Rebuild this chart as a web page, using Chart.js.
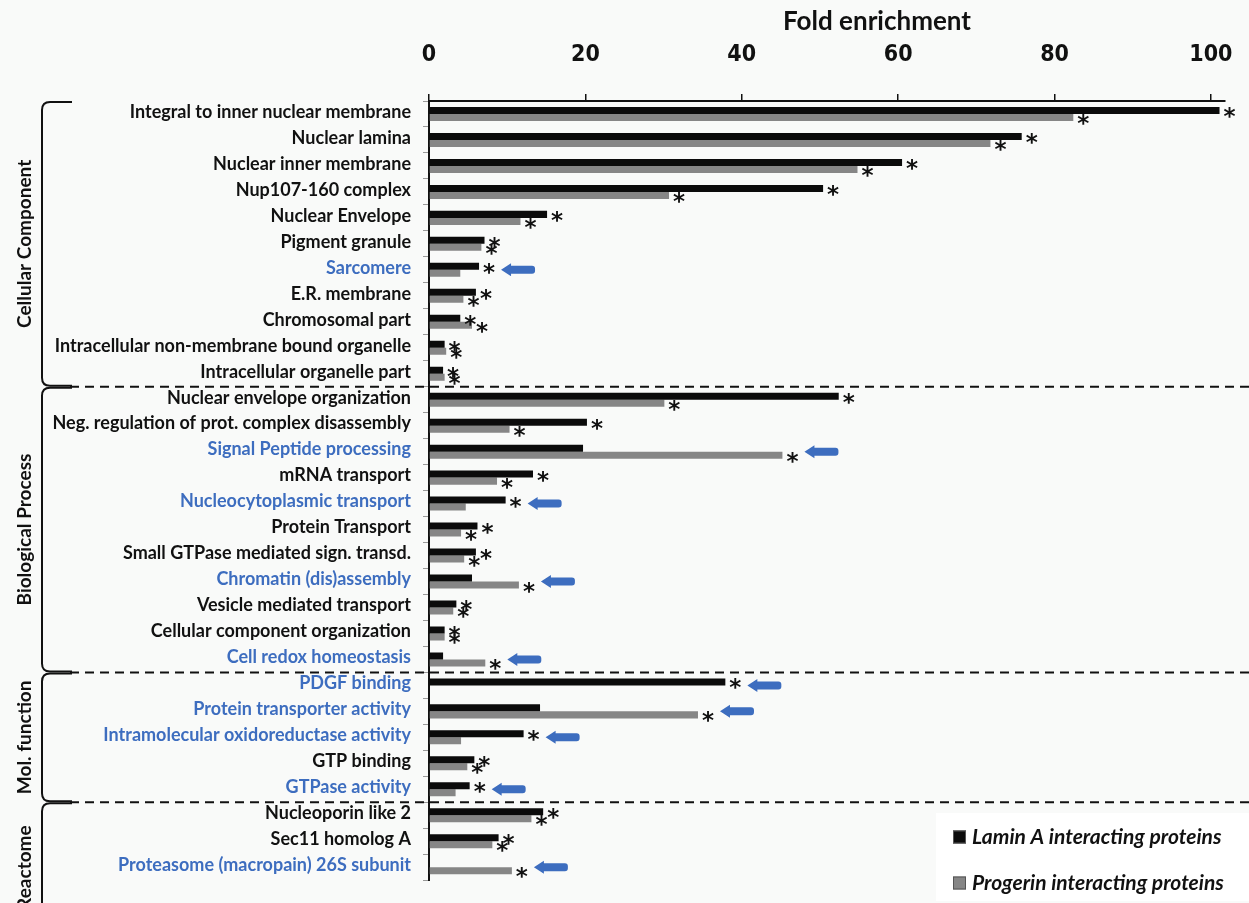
<!doctype html>
<html>
<head>
<meta charset="utf-8" />
<title>Fold enrichment</title>
<script src="https://cdn.jsdelivr.net/npm/chart.js"></script>
<style>
  html, body { margin: 0; padding: 0; background: #f9faf9; }
  #wrap { width: 1249px; height: 903px; }
</style>
</head>
<body>
<div id="wrap"><canvas id="chart"></canvas></div>
<script>
// --- data ---
const categories = [
  'Integral to inner nuclear membrane', 'Nuclear lamina', 'Nuclear inner membrane',
  'Nup107-160 complex', 'Nuclear Envelope', 'Pigment granule', 'Sarcomere',
  'E.R. membrane', 'Chromosomal part', 'Intracellular non-membrane bound organelle',
  'Intracellular organelle part',
  'Nuclear envelope organization', 'Neg. regulation of prot. complex disassembly',
  'Signal Peptide processing', 'mRNA transport', 'Nucleocytoplasmic transport',
  'Protein Transport', 'Small GTPase mediated sign. transd.', 'Chromatin (dis)assembly',
  'Vesicle mediated transport', 'Cellular component organization', 'Cell redox homeostasis',
  'PDGF binding', 'Protein transporter activity', 'Intramolecular oxidoreductase activity',
  'GTP binding', 'GTPase activity',
  'Nucleoporin like 2', 'Sec11 homolog A', 'Proteasome (macropain) 26S subunit'
];
const laminA = [101.1, 75.8, 60.5, 50.4, 15.1, 7.1, 6.4, 6.0, 4.0, 2.0, 1.8,
  52.4, 20.2, 19.7, 13.3, 9.8, 6.2, 6.0, 5.5, 3.5, 2.0, 1.8,
  37.9, 14.2, 12.1, 5.8, 5.2,
  14.6, 8.9, 0];
const progerin = [82.4, 71.8, 54.8, 30.7, 11.7, 6.7, 4.0, 4.4, 5.5, 2.2, 2.0,
  30.1, 10.3, 45.2, 8.7, 4.7, 4.1, 4.5, 11.5, 3.1, 2.0, 7.2,
  0, 34.4, 4.1, 4.9, 3.4,
  13.1, 8.1, 10.6];
// significance stars (1 = "*")
const laminSig = [1,1,1,1,1,1,1,1,1,1,1, 1,1,0,1,1,1,1,0,1,1,0, 1,0,1,1,1, 1,1,0];
const progerinSig = [1,1,1,1,1,1,0,1,1,1,1, 1,1,1,1,0,1,1,1,1,1,1, 0,1,0,1,0, 1,1,1];
// rows marked in blue with an arrow
const highlighted = [0,0,0,0,0,0,1,0,0,0,0, 0,0,1,0,1,0,0,1,0,0,1, 1,1,1,0,1, 0,0,1];
const groupNames = ['Cellular Component', 'Biological Process', 'Mol. function', 'Reactome'];
const groupSizes = [11, 11, 5, 3];
const xTicks = [0, 20, 40, 60, 80, 100];

const BLUE = '#3d6dbf';
const INK = '#111111';

function drawArrow(ctx, x, y) {
  const len = 34, headLen = 10, headH = 6.5, shaftH = 4, r = 3;
  ctx.beginPath();
  ctx.moveTo(x, y);
  ctx.lineTo(x + headLen, y - headH);
  ctx.lineTo(x + headLen, y - shaftH);
  ctx.lineTo(x + len - r, y - shaftH);
  ctx.quadraticCurveTo(x + len, y - shaftH, x + len, y - shaftH + r);
  ctx.lineTo(x + len, y + shaftH - r);
  ctx.quadraticCurveTo(x + len, y + shaftH, x + len - r, y + shaftH);
  ctx.lineTo(x + headLen, y + shaftH);
  ctx.lineTo(x + headLen, y + headH);
  ctx.closePath();
  ctx.fill();
}

const decor = {
  id: 'decor',
  beforeDraw(chart) {
    const { ctx, width, height } = chart;
    ctx.save();
    ctx.fillStyle = '#f9faf9';
    ctx.fillRect(0, 0, width, height);
    ctx.restore();
  },
  afterDatasetsDraw(chart) {
    const ctx = chart.ctx;
    const ys = chart.scales.y;
    ctx.save();
    // stars
    ctx.fillStyle = INK;
    ctx.font = 'bold 23px "DejaVu Sans"';
    ctx.textAlign = 'center';
    ctx.textBaseline = 'alphabetic';
    const m = ctx.measureText('*');
    const mid = (m.actualBoundingBoxAscent - m.actualBoundingBoxDescent) / 2;
    const sigs = [laminSig, progerinSig];
    chart.data.datasets.forEach((ds, di) => {
      chart.getDatasetMeta(di).data.forEach((bar, i) => {
        if (!sigs[di][i]) return;
        ctx.fillText('*', bar.x + 10, bar.y + 2 + mid);
      });
    });
    // arrows
    ctx.fillStyle = BLUE;
    highlighted.forEach((h, i) => {
      if (!h) return;
      const ends = chart.data.datasets.map((ds, di) => chart.getDatasetMeta(di).data[i].x);
      drawArrow(ctx, Math.max(...ends) + 22, ys.getPixelForValue(i));
    });
    ctx.restore();
  },
  afterDraw(chart) {
    const { ctx, width, height, chartArea } = chart;
    const ys = chart.scales.y;
    ctx.save();

    // group boundaries
    const bounds = [chartArea.top];
    let k = 0;
    groupSizes.forEach((n, gi) => {
      k += n;
      if (gi < groupSizes.length - 1) {
        bounds.push((ys.getPixelForValue(k - 1) + ys.getPixelForValue(k)) / 2);
      }
    });
    bounds.push(height + 30);

    // dashed separators
    ctx.strokeStyle = INK;
    ctx.lineWidth = 2;
    ctx.setLineDash([9, 6]);
    for (let i = 1; i < bounds.length - 1; i++) {
      ctx.beginPath();
      ctx.moveTo(70, bounds[i]);
      ctx.lineTo(width, bounds[i]);
      ctx.stroke();
    }
    ctx.setLineDash([]);

    // brackets + group names
    const bx = 42;
    groupNames.forEach((name, gi) => {
      const top = bounds[gi] + 1, bot = bounds[gi + 1] - 1;
      ctx.beginPath();
      ctx.moveTo(72, top);
      ctx.lineTo(50, top);
      ctx.quadraticCurveTo(bx, top, bx, top + 8);
      ctx.lineTo(bx, bot - 8);
      ctx.quadraticCurveTo(bx, bot, 50, bot);
      ctx.lineTo(72, bot);
      ctx.stroke();

      ctx.save();
      ctx.translate(25, (top + bot) / 2);
      ctx.rotate(-Math.PI / 2);
      ctx.fillStyle = INK;
      ctx.font = 'bold 19px Lato';
      ctx.textAlign = 'center';
      ctx.textBaseline = 'middle';
      ctx.fillText(name, 0, 0);
      ctx.restore();
    });

    // axis title
    ctx.fillStyle = INK;
    ctx.font = 'bold 26px Lato';
    ctx.textAlign = 'center';
    ctx.textBaseline = 'middle';
    ctx.fillText('Fold enrichment', 877, 22);

    // legend
    ctx.fillStyle = '#ffffff';
    ctx.fillRect(936, 813, 313, 88);
    ctx.font = 'italic bold 21px Lato';
    ctx.textAlign = 'left';
    const legendY = [837, 883];
    chart.data.datasets.forEach((ds, di) => {
      const y = legendY[di];
      ctx.fillStyle = ds.backgroundColor;
      ctx.fillRect(953, y - 6.5, 13, 13);
      ctx.strokeStyle = '#555';
      ctx.lineWidth = 1;
      ctx.strokeRect(953.5, y - 6, 12, 12);
      ctx.fillStyle = INK;
      ctx.fillText(ds.label, 972, y);
    });
    ctx.restore();
  }
};

new Chart(document.getElementById('chart'), {
  type: 'bar',
  data: {
    labels: categories,
    datasets: [
      { label: 'Lamin A interacting proteins', data: laminA, backgroundColor: '#0b0b0b' },
      { label: 'Progerin interacting proteins', data: progerin, backgroundColor: '#868686' }
    ]
  },
  options: {
    indexAxis: 'y',
    responsive: true,
    maintainAspectRatio: false,
    animation: false,
    layout: { padding: { left: 0, top: 0, right: 24, bottom: 19 } },
    datasets: { bar: { barPercentage: 1, categoryPercentage: 0.54 } },
    plugins: { legend: { display: false }, tooltip: { enabled: false } },
    scales: {
      x: {
        position: 'top',
        min: 0,
        max: 101.8,
        afterBuildTicks: s => { s.ticks = xTicks.map(v => ({ value: v })); },
        ticks: {
          color: INK,
          padding: 25,
          font: { family: "'Liberation Sans Narrow', 'DejaVu Sans Condensed', sans-serif", weight: 'bold', size: 23 }
        },
        grid: { drawOnChartArea: false, drawTicks: true, tickLength: 7, color: INK, lineWidth: 1.5 },
        border: { color: INK, width: 2 },
        afterFit: s => { s.height = 101; s.paddingLeft = 0; s.paddingRight = 0; }
      },
      y: {
        ticks: {
          autoSkip: false,
          color: ctx => highlighted[ctx.index] ? BLUE : INK,
          padding: 12,
          labelOffset: -2,
          font: { family: 'Lato', weight: 'bold', size: 18 }
        },
        grid: { drawOnChartArea: false, tickLength: 6, color: '#999' },
        border: { color: INK, width: 2 },
        afterFit: s => { s.width = 429; }
      }
    }
  },
  plugins: [decor]
});
</script>
</body>
</html>
